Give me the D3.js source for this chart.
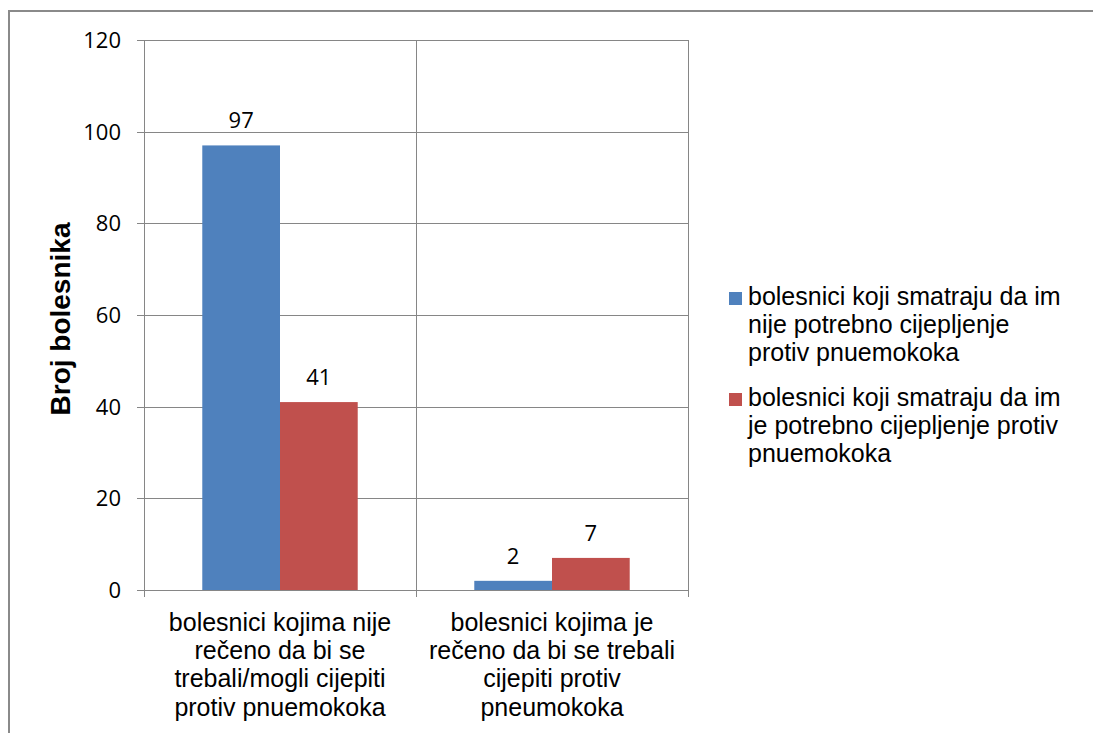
<!DOCTYPE html>
<html>
<head>
<meta charset="utf-8">
<script src="https://cdn.jsdelivr.net/npm/d3@7"></script>
<style>
  body { margin: 0; background: #fff; }
  svg { display: block; }
</style>
</head>
<body>
<svg width="1093" height="733"></svg>
<script>
// podaci
var kategorije = [
    ["bolesnici kojima nije", "rečeno da bi se", "trebali/mogli cijepiti", "protiv pnuemokoka"],
    ["bolesnici kojima je", "rečeno da bi se trebali", "cijepiti protiv", "pneumokoka"]
];
var serije = [
    ["bolesnici koji smatraju da im", "nije potrebno cijepljenje", "protiv pnuemokoka"],
    ["bolesnici koji smatraju da im", "je potrebno cijepljenje protiv", "pnuemokoka"]
];
// vrijednosti po seriji (redom kategorija)
var nijePotrebno = [97, 2];
var jePotrebno = [41, 7];
var boje = ["#4F81BD", "#C0504D"];
var yTicks = [0, 20, 40, 60, 80, 100, 120];
var yNaslov = "Broj bolesnika";

var dados = [nijePotrebno, jePotrebno];

var svg = d3.select("svg"),
    margin = {top: 40, left: 144},
    width = 544,
    height = 550,
    g = svg.append("g").attr("transform", "translate(" + margin.left + "," + margin.top + ")");

// okvir
svg.append("rect")
    .attr("x", 9).attr("y", 11)
    .attr("width", 1300).attr("height", 900)
    .attr("fill", "none")
    .attr("stroke", "#8a8a8a")
    .attr("stroke-width", 2);

var eixoX = d3.scaleBand()
    .domain(d3.range(kategorije.length))
    .range([0, width])
    .padding(0);

var gap = eixoX.bandwidth() * 1.5 / 3.5 / 2;
var eixoX1 = d3.scaleBand()
    .domain(d3.range(serije.length))
    .range([gap, eixoX.bandwidth() - gap])
    .padding(0);

var eixoY = d3.scaleLinear()
    .domain([0, 120])
    .range([height, 0]);

var gridColor = "#868686";

// horizontalne linije
g.append("g")
    .selectAll("line")
    .data(yTicks)
    .enter().append("line")
    .attr("x1", -7).attr("x2", width)
    .attr("y1", function(d) { return Math.round(eixoY(d)) + 0.5; })
    .attr("y2", function(d) { return Math.round(eixoY(d)) + 0.5; })
    .attr("stroke", gridColor)
    .attr("stroke-width", 1);

// vertikalne linije
g.append("g")
    .selectAll("line")
    .data([0, width / 2, width])
    .enter().append("line")
    .attr("x1", function(d) { return Math.round(d) + 0.5; })
    .attr("x2", function(d) { return Math.round(d) + 0.5; })
    .attr("y1", 0).attr("y2", height + 7)
    .attr("stroke", gridColor)
    .attr("stroke-width", 1);

// stupci
var series = g.selectAll(".series")
    .data(dados)
    .enter().append("g")
    .attr("class", "series")
    .attr("fill", function(d, i) { return boje[i]; });

series.each(function(vals, s) {
    var grupa = d3.select(this);
    grupa.selectAll("rect")
        .data(vals)
        .enter().append("rect")
        .attr("x", function(d, i) { return eixoX(i) + eixoX1(s); })
        .attr("y", function(d) { return eixoY(d); })
        .attr("width", eixoX1.bandwidth())
        .attr("height", function(d) { return eixoY(0) - eixoY(d); });

    // oznake vrijednosti
    grupa.selectAll("text")
        .data(vals)
        .enter().append("text")
        .attr("x", function(d, i) { return eixoX(i) + eixoX1(s) + eixoX1.bandwidth() / 2; })
        .attr("y", function(d) { return eixoY(d) - 17; })
        .attr("text-anchor", "middle")
        .attr("fill", "#000")
        .style("font-family", "'Open Sans', sans-serif")
        .style("font-size", "22px")
        .text(function(d) { return d; });
});

// y os oznake
g.append("g")
    .selectAll("text")
    .data(yTicks)
    .enter().append("text")
    .attr("x", -23)
    .attr("y", function(d) { return eixoY(d); })
    .attr("dy", "0.36em")
    .attr("text-anchor", "end")
    .style("font-family", "'Open Sans', sans-serif")
    .style("font-size", "22px")
    .text(function(d) { return d; });

// x os oznake
var katG = g.append("g")
    .selectAll("text")
    .data(kategorije)
    .enter().append("text")
    .attr("text-anchor", "middle")
    .style("font-family", "'Liberation Sans', Arial, sans-serif")
    .style("font-size", "25px")
    .attr("fill", "#000");

katG.selectAll("tspan")
    .data(function(d, i) { return d.map(function(t) { return {t: t, i: i}; }); })
    .enter().append("tspan")
    .attr("x", function(d) { return eixoX(d.i) + eixoX.bandwidth() / 2; })
    .attr("y", function(d, j) { return height + 41 + j * 28.2; })
    .text(function(d) { return d.t; });

// naslov y osi
svg.append("text")
    .attr("transform", "translate(70," + 319 + ") rotate(-90)")
    .attr("text-anchor", "middle")
    .style("font-family", "'Liberation Sans', Arial, sans-serif")
    .style("font-size", "28px")
    .style("font-weight", "bold")
    .text(yNaslov);

// legenda
var legenda = svg.append("g");
var legendaY = [292, 393];
serije.forEach(function(linije, i) {
    legenda.append("rect")
        .attr("x", 729).attr("y", legendaY[i])
        .attr("width", 13).attr("height", 13)
        .attr("fill", boje[i]);
    var t = legenda.append("text")
        .style("font-family", "'Liberation Sans', Arial, sans-serif")
        .style("font-size", "25px")
        .attr("fill", "#000");
    t.selectAll("tspan")
        .data(linije)
        .enter().append("tspan")
        .attr("x", 748)
        .attr("y", function(d, j) { return legendaY[i] + 13 + j * 28; })
        .text(function(d) { return d; });
});
</script>
</body>
</html>
